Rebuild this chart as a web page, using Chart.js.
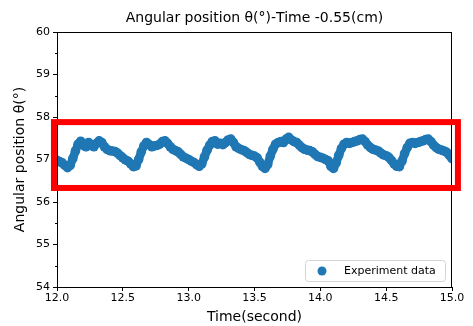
<!DOCTYPE html>
<html>
<head>
<meta charset="utf-8">
<script src="https://cdn.jsdelivr.net/npm/chart.js@4/dist/chart.umd.min.js"></script>
<style>
  html, body { margin: 0; padding: 0; background: #fff; }
  canvas { display: block; }
</style>
</head>
<body>
<canvas id="angle" width="473" height="326"></canvas>
<script>
// sample times (s)
const times = [
  12.00, 12.02, 12.04, 12.06, 12.08, 12.10, 12.12, 12.14, 12.16, 12.18,
  12.20, 12.22, 12.24, 12.26, 12.28, 12.30, 12.32, 12.34, 12.36, 12.38,
  12.40, 12.42, 12.44, 12.46, 12.48, 12.50, 12.52, 12.54, 12.56, 12.58,
  12.60, 12.62, 12.64, 12.66, 12.68, 12.70, 12.72, 12.74, 12.76, 12.78,
  12.80, 12.82, 12.84, 12.86, 12.88, 12.90, 12.92, 12.94, 12.96, 12.98,
  13.00, 13.02, 13.04, 13.06, 13.08, 13.10, 13.12, 13.14, 13.16, 13.18,
  13.20, 13.22, 13.24, 13.26, 13.28, 13.30, 13.32, 13.34, 13.36, 13.38,
  13.40, 13.42, 13.44, 13.46, 13.48, 13.50, 13.52, 13.54, 13.56, 13.58,
  13.60, 13.62, 13.64, 13.66, 13.68, 13.70, 13.72, 13.74, 13.76, 13.78,
  13.80, 13.82, 13.84, 13.86, 13.88, 13.90, 13.92, 13.94, 13.96, 13.98,
  14.00, 14.02, 14.04, 14.06, 14.08, 14.10, 14.12, 14.14, 14.16, 14.18,
  14.20, 14.22, 14.24, 14.26, 14.28, 14.30, 14.32, 14.34, 14.36, 14.38,
  14.40, 14.42, 14.44, 14.46, 14.48, 14.50, 14.52, 14.54, 14.56, 14.58,
  14.60, 14.62, 14.64, 14.66, 14.68, 14.70, 14.72, 14.74, 14.76, 14.78,
  14.80, 14.82, 14.84, 14.86, 14.88, 14.90, 14.92, 14.94, 14.96, 14.98,
  15.00
];

// measured angle (deg)
const angles = [
  56.98, 56.95, 56.92, 56.86, 56.81, 56.86, 57.02, 57.20, 57.36, 57.43,
  57.33, 57.30, 57.40, 57.33, 57.30, 57.38, 57.44, 57.40, 57.30, 57.24,
  57.21, 57.20, 57.19, 57.15, 57.09, 57.04, 56.99, 56.96, 56.90, 56.83,
  56.85, 57.00, 57.18, 57.32, 57.40, 57.35, 57.30, 57.32, 57.33, 57.36,
  57.42, 57.44, 57.38, 57.30, 57.24, 57.21, 57.18, 57.12, 57.06, 57.03,
  57.00, 56.96, 56.93, 56.88, 56.84, 56.90, 57.06, 57.22, 57.34, 57.42,
  57.44, 57.36, 57.38, 57.35, 57.40, 57.46, 57.48, 57.40, 57.30, 57.26,
  57.23, 57.21, 57.17, 57.12, 57.10, 57.08, 57.04, 56.94, 56.84, 56.79,
  56.88, 57.08, 57.24, 57.36, 57.40, 57.42, 57.40, 57.48, 57.52, 57.46,
  57.42, 57.40, 57.34, 57.28, 57.24, 57.22, 57.21, 57.18, 57.12, 57.07,
  57.05, 57.03, 57.00, 56.97, 56.84, 56.79, 56.92, 57.10, 57.26, 57.36,
  57.40, 57.38, 57.40, 57.42, 57.44, 57.47, 57.48, 57.42, 57.34, 57.28,
  57.24, 57.22, 57.20, 57.15, 57.11, 57.09, 57.05, 56.98, 56.90, 56.84,
  56.83, 56.96, 57.14, 57.28, 57.38, 57.40, 57.38, 57.40, 57.42, 57.44,
  57.47, 57.48, 57.42, 57.34, 57.28, 57.24, 57.22, 57.20, 57.17, 57.10,
  57.02
];

const xTicks = [12.0, 12.5, 13.0, 13.5, 14.0, 14.5, 15.0];
const yTicks = [54, 55, 56, 57, 58, 59, 60];
const yMinorTicks = [54.5, 55.5, 56.5, 57.5, 58.5, 59.5];

// highlight box around the oscillation band, in data units
const boxX = [11.977, 15.045];
const boxY = [56.33, 57.88];

const FONT = "'DejaVu Sans', 'Liberation Sans', sans-serif";
const BLUE = '#1f77b4';

const points = times.map((t, i) => ({ x: t, y: angles[i] }));

const decor = {
  id: 'decor',
  afterDraw(chart) {
    const { ctx, chartArea: a, scales } = chart;
    ctx.save();

    // full frame (top/right spines too)
    ctx.strokeStyle = '#000';
    ctx.lineWidth = 1;
    ctx.strokeRect(a.left + 0.5, a.top + 0.5, a.right - a.left - 1, a.bottom - a.top);

    // short minor ticks on the y axis
    ctx.beginPath();
    yMinorTicks.forEach(v => {
      const py = Math.round(scales.y.getPixelForValue(v)) + 0.5;
      ctx.moveTo(a.left - 2, py);
      ctx.lineTo(a.left, py);
    });
    ctx.stroke();

    // titles
    ctx.fillStyle = '#000';
    ctx.textAlign = 'center';
    ctx.textBaseline = 'middle';
    ctx.font = '14px ' + FONT;
    const cx = (a.left + a.right) / 2;
    ctx.fillText('Angular position \u03b8(\u00b0)-Time -0.55(cm)', cx, 18);
    ctx.fillText('Time(second)', cx, 317);
    ctx.save();
    ctx.translate(20, (a.top + a.bottom) / 2);
    ctx.rotate(-Math.PI / 2);
    ctx.fillText('Angular position \u03b8(\u00b0)', 0, 0);
    ctx.restore();

    // legend, lower right inside the axes
    const w = 140, h = 21;
    const lx = a.right - 7 - w, ly = a.bottom - 6 - h;
    ctx.beginPath();
    ctx.roundRect(lx + 0.5, ly + 0.5, w, h, 3);
    ctx.fillStyle = 'rgba(255,255,255,0.8)';
    ctx.fill();
    ctx.strokeStyle = '#d4d4d4';
    ctx.stroke();
    ctx.beginPath();
    ctx.arc(lx + 17, ly + h / 2 + 0.5, 4.5, 0, Math.PI * 2);
    ctx.fillStyle = BLUE;
    ctx.fill();
    ctx.fillStyle = '#000';
    ctx.textAlign = 'left';
    ctx.font = '11px ' + FONT;
    ctx.fillText(chart.data.datasets[0].label, lx + 39, ly + h / 2 + 1);

    // red highlight box
    const x0 = scales.x.getPixelForValue(boxX[0]);
    const x1 = scales.x.getPixelForValue(boxX[1]);
    const y0 = scales.y.getPixelForValue(boxY[1]);
    const y1 = scales.y.getPixelForValue(boxY[0]);
    ctx.strokeStyle = '#ff0000';
    ctx.lineWidth = 6;
    ctx.strokeRect(x0, y0, x1 - x0, y1 - y0);

    ctx.restore();
  }
};

new Chart(document.getElementById('angle'), {
  type: 'scatter',
  data: {
    datasets: [{
      label: 'Experiment data',
      data: points,
      showLine: true,
      backgroundColor: BLUE,
      borderColor: BLUE,
      borderWidth: 8.5,
      borderJoinStyle: 'round',
      borderCapStyle: 'round',
      pointBorderWidth: 0,
      pointRadius: 4.8,
      clip: 0
    }]
  },
  options: {
    responsive: false,
    animation: false,
    layout: { padding: { top: 32, right: 21, left: 0, bottom: 0 } },
    plugins: {
      legend: { display: false },
      title: { display: false },
      tooltip: { enabled: false }
    },
    scales: {
      x: {
        type: 'linear',
        min: 12,
        max: 15,
        afterFit: s => { s.height = 39; },
        afterBuildTicks: s => { s.ticks = xTicks.map(v => ({ value: v })); },
        ticks: {
          color: '#000',
          padding: 1,
          maxRotation: 0,
          font: { family: FONT, size: 11 },
          callback: v => v.toFixed(1)
        },
        grid: { drawOnChartArea: false, tickLength: 4, color: '#000' },
        border: { color: '#000' }
      },
      y: {
        min: 54,
        max: 60,
        afterFit: s => { s.width = 57; },
        afterBuildTicks: s => { s.ticks = yTicks.map(v => ({ value: v })); },
        ticks: {
          color: '#000',
          padding: 3,
          font: { family: FONT, size: 11 },
          callback: v => String(v)
        },
        grid: {
          drawOnChartArea: false,
          tickLength: 4,
          color: '#000'
        },
        border: { color: '#000' }
      }
    }
  },
  plugins: [decor]
});
</script>
</body>
</html>
